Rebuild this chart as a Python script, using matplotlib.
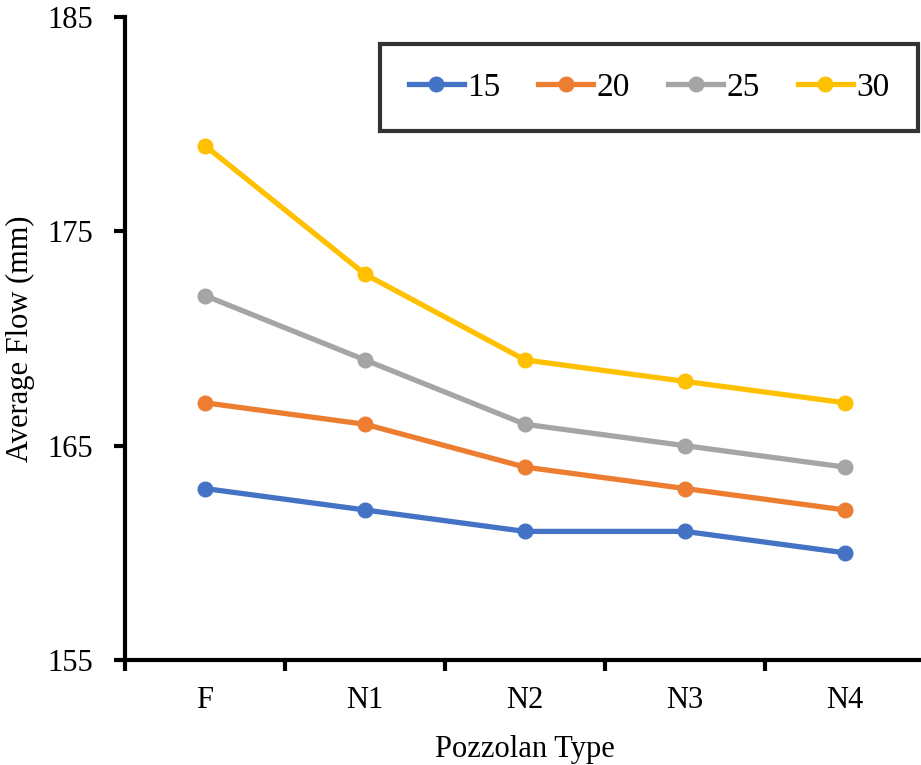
import matplotlib
matplotlib.use('Agg')
import matplotlib.pyplot as plt
import numpy as np

categories = ['F', 'N1', 'N2', 'N3', 'N4']
series_names = ['15', '20', '25', '30']
flow_15 = [163, 162, 161, 161, 160]
flow_20 = [167, 166, 164, 163, 162]
flow_25 = [172, 169, 166, 165, 164]
flow_30 = [179, 173, 169, 168, 167]
colors = ['#4472C4', '#ED7D31', '#A5A5A5', '#FFC000']

plt.rcParams['font.family'] = 'Liberation Serif'

fig = plt.figure(figsize=(9.21, 7.65), dpi=100)
ax = fig.add_axes([125/921, 1-660/765, 800/921, 643/765])

x = np.arange(len(categories))
for name, vals, c in zip(series_names, [flow_15, flow_20, flow_25, flow_30], colors):
    ax.plot(x, vals, color=c, linewidth=3.8, marker='o', markersize=10.5, label=name)

ax.set_xlim(-0.5, len(categories) - 0.5)
ax.set_ylim(155, 185)
ax.set_yticks([155, 165, 175, 185])
ax.set_xticks(x)
ax.set_xticklabels(categories)
ax.set_xticks(np.arange(-0.5, len(categories)), minor=True)
ax.tick_params(axis='x', which='major', length=0, labelsize=22, pad=19)
ax.tick_params(axis='x', which='minor', length=8, width=3, direction='out')
ax.tick_params(axis='y', length=8, width=3, direction='out', labelsize=22, pad=15)

for s in ['top', 'right']:
    ax.spines[s].set_visible(False)
for s in ['left', 'bottom']:
    ax.spines[s].set_linewidth(3)

ax.set_xlabel('Pozzolan Type', fontsize=22, labelpad=14)
ax.set_ylabel('Average Flow (mm)', fontsize=22, labelpad=9)

leg = ax.legend(ncol=4, loc='center', bbox_to_anchor=(0.319, 0.8196, 0.672, 0.1414),
                mode='expand', borderaxespad=0, fontsize=24, frameon=True, fancybox=False,
                handlelength=1.65, handletextpad=0.1, columnspacing=1.0, borderpad=0.85)
leg.get_frame().set_edgecolor('black')
leg.get_frame().set_linewidth(3)

fig.savefig('out.png', dpi=100)
